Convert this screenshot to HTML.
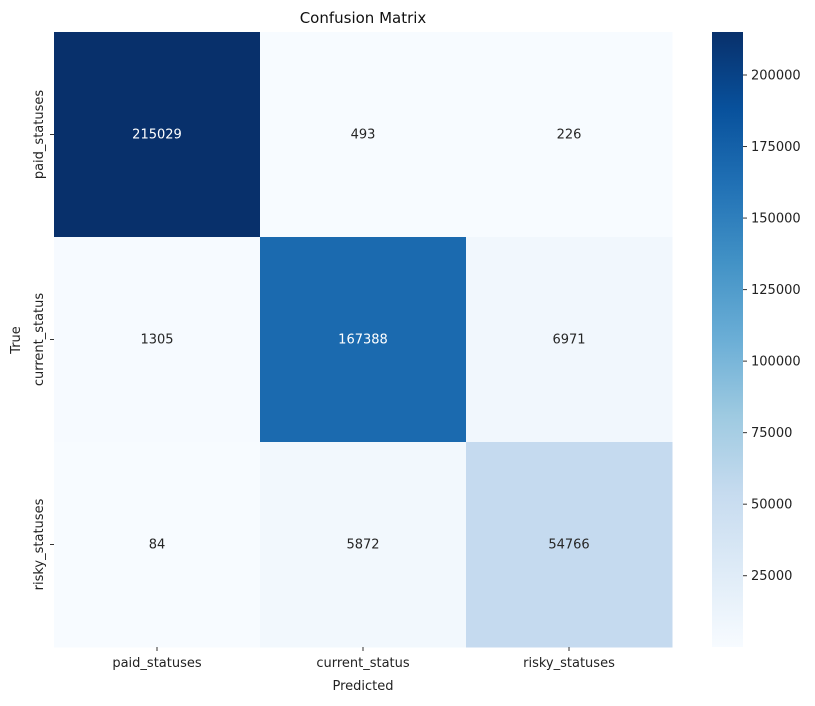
<!DOCTYPE html>
<html><head><meta charset="utf-8"><style>
body{margin:0;background:#fff;font-family:"Liberation Sans","DejaVu Sans",sans-serif}
</style></head><body>
<svg id="c" width="815" height="701" font-family="'DejaVu Sans','Liberation Sans',sans-serif"></svg>
<script>
const classes=["paid_statuses","current_status","risky_statuses"];
const row0=[215029,493,226];
const row1=[1305,167388,6971];
const row2=[84,5872,54766];
const cbTicks=[25000,50000,75000,100000,125000,150000,175000,200000];
const matrix=[row0,row1,row2];
const NS="http://www.w3.org/2000/svg";
const svg=document.getElementById('c');
function el(t,a,p){const e=document.createElementNS(NS,t);for(const k in a)e.setAttribute(k,a[k]);(p||svg).appendChild(e);return e;}
const stops=["#f7fbff","#deebf7","#c6dbef","#9ecae1","#6baed6","#4292c6","#2171b5","#08519c","#08306b"].map(h=>[parseInt(h.slice(1,3),16),parseInt(h.slice(3,5),16),parseInt(h.slice(5,7),16)]);
const all=matrix.flat();const vmin=Math.min(...all),vmax=Math.max(...all);
function norm(v){return Math.max(0,Math.min(1,(v-vmin)/(vmax-vmin)));}
function color(v){const t=norm(v)*(stops.length-1);const i=Math.min(stops.length-2,Math.floor(t));const f=t-i;const c=stops[i].map((x,k)=>Math.round(x+(stops[i+1][k]-x)*f));return `rgb(${c})`;}
const X0=54,X1=672,Y0=32,Y1=647;const cw=(X1-X0)/classes.length,ch=(Y1-Y0)/classes.length;
function xs(j){return X0+j*cw;}function ys(i){return Y0+i*ch;}
matrix.forEach((r,i)=>r.forEach((v,j)=>{
 const rc=el('rect',{x:xs(j),y:ys(i),width:cw+0.5,height:ch+0.5,fill:color(v)});
 
 
 const t=el('text',{x:xs(j)+cw/2,y:ys(i)+ch/2+4,'text-anchor':'middle','font-size':13,fill:norm(v)>0.5?'#fff':'#262626'});
 t.textContent=v;
 
 
}));
classes.forEach((c,k)=>{
 const cx=xs(k)+cw/2;
 el('line',{x1:cx,x2:cx,y1:Y1,y2:Y1+4,stroke:'#333'});
 const t=el('text',{x:cx,y:Y1+20,'text-anchor':'middle','font-size':13,fill:'#222'});t.textContent=c;
 
 
 const cy=ys(k)+ch/2;
 el('line',{x1:X0-4,x2:X0,y1:cy,y2:cy,stroke:'#333'});
 const u=el('text',{x:0,y:0,transform:`translate(${X0-11},${cy}) rotate(-90)`,'text-anchor':'middle','font-size':13,fill:'#222'});u.textContent=c;
 
 
});
let t=el('text',{x:363,y:23,'text-anchor':'middle','font-size':15,fill:'#111'});t.textContent='Confusion Matrix';

t=el('text',{x:363,y:690,'text-anchor':'middle','font-size':13,fill:'#222'});t.textContent='Predicted';

t=el('text',{x:0,y:0,transform:'translate(20,340) rotate(-90)','text-anchor':'middle','font-size':13,fill:'#222'});t.textContent='True';

const CX=712,CW=31;
const defs=el('defs',{});const g=el('linearGradient',{id:'gr',x1:0,y1:1,x2:0,y2:0},defs);
stops.forEach((s,k)=>el('stop',{offset:k/(stops.length-1),'stop-color':`rgb(${s})`},g));
const cb=el('rect',{x:CX,y:Y0,width:CW,height:Y1-Y0,fill:'url(#gr)'});

function cy(v){return Y1-norm(v)*(Y1-Y0);}
cbTicks.forEach(v=>{const y=cy(v);
 el('line',{x1:CX+CW,x2:CX+CW+4,y1:y,y2:y,stroke:'#333'});
 const tt=el('text',{x:CX+CW+8,y:y+4.5,'font-size':13,fill:'#222'});tt.textContent=v;
 
});
</script>
</body></html>
